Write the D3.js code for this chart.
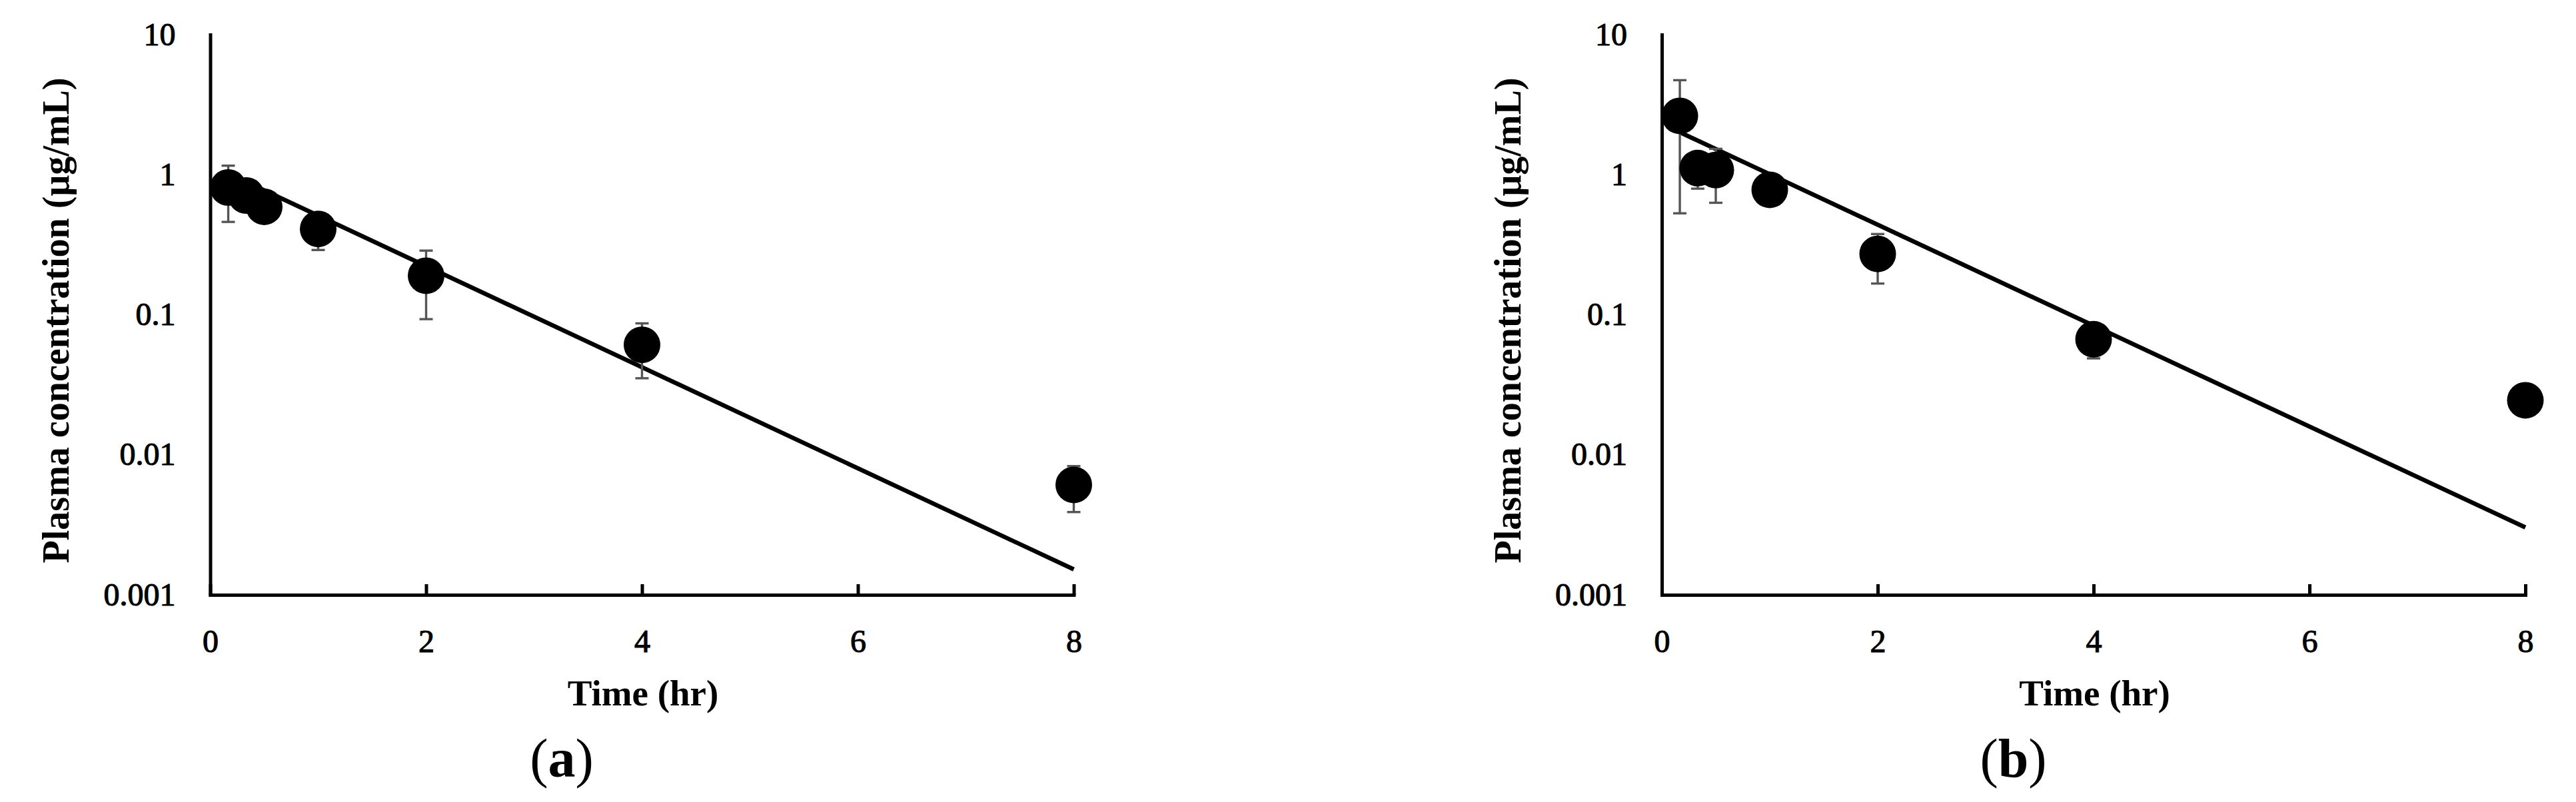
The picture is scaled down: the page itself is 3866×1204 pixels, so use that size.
<!DOCTYPE html>
<html>
<head>
<meta charset="utf-8">
<script src="https://cdn.jsdelivr.net/npm/d3@7"></script>
<style>
  html, body { margin: 0; padding: 0; background: #fff; }
  svg { display: block; }
  text { font-family: "Liberation Serif", "DejaVu Serif", serif; fill: #000; }
</style>
</head>
<body>
<svg id="chart" width="3866" height="1204"></svg>
<script>
// ---- data ----
const panelLabels = ["a", "b"];
const timeHr = [0.167, 0.333, 0.5, 1, 2, 4, 8];

const meanA = [0.81, 0.71, 0.59, 0.41, 0.19, 0.061, 0.0061];
const sdA   = [0.35, 0.10, 0.08, 0.12, 0.097, 0.0258, 0.0022];

const meanB = [2.63, 1.115, 1.08, 0.78, 0.272, 0.0668, 0.0245];
const sdB   = [2.1, 0.32, 0.45, 0.10, 0.105, 0.018, 0.004];

const fitTime = [0.167, 8];
const fitA = [1.02, 0.00152];
const fitB = [2.01, 0.00303];

const xTicks = [0, 2, 4, 6, 8];
const yTicks = [10, 1, 0.1, 0.01, 0.001];
const yTickLabels = ["10", "1", "0.1", "0.01", "0.001"];
const xTitle = "Time (hr)";
const yTitle = "Plasma concentration (μg/mL)";

// ---- layout ----
const svg = d3.select("#chart");
const panelLeft = [315.5, 2494];
const plotW = 1296;
const yTop = 52, yBottom = 893;

const series = [
  { mean: meanA, sd: sdA, fit: fitA },
  { mean: meanB, sd: sdB, fit: fitB }
];

series.forEach((s, i) => {
  const left = panelLeft[i];
  const x = d3.scaleLinear().domain([0, 8]).range([left, left + plotW]);
  const y = d3.scaleLog().domain([0.001, 10]).range([yBottom, yTop]);
  const g = svg.append("g");

  // fitted line
  const pts = fitTime.map((t, k) => [x(t), y(s.fit[k])]);
  g.append("path")
    .attr("d", d3.line()(pts))
    .attr("fill", "none")
    .attr("stroke", "#000")
    .attr("stroke-width", 6.5);

  // error bars
  const eb = g.append("g").attr("stroke", "#555").attr("stroke-width", 3.4);
  timeHr.forEach((t, k) => {
    const hi = s.mean[k] + s.sd[k];
    const lo = Math.max(s.mean[k] - s.sd[k], 0.0011);
    const cx = x(t);
    eb.append("line").attr("x1", cx).attr("x2", cx).attr("y1", y(hi)).attr("y2", y(lo));
    eb.append("line").attr("x1", cx - 10).attr("x2", cx + 10).attr("y1", y(hi)).attr("y2", y(hi));
    eb.append("line").attr("x1", cx - 10).attr("x2", cx + 10).attr("y1", y(lo)).attr("y2", y(lo));
  });

  // markers
  g.selectAll("circle.pt").data(timeHr).enter().append("circle")
    .attr("class", "pt")
    .attr("cx", d => x(d))
    .attr("cy", (d, k) => y(s.mean[k]))
    .attr("r", 27.5)
    .attr("fill", "#000");

  // x axis
  const xAxis = d3.axisBottom(x).tickValues(xTicks).tickSizeInner(-16).tickSizeOuter(0)
    .tickFormat(d3.format("d")).tickPadding(0);
  const gx = g.append("g").attr("transform", `translate(0,${yBottom})`).call(xAxis);
  gx.select(".domain").attr("stroke", "#000").attr("stroke-width", 5).attr("stroke-linecap", "square");
  gx.selectAll(".tick line").attr("stroke", "#000").attr("stroke-width", 5);
  gx.selectAll(".tick text")
    .attr("y", 979 - yBottom).attr("dy", null)
    .style("font-family", '"Liberation Serif", "DejaVu Serif", serif')
    .style("font-size", "48px").attr("fill", "#000")
    .attr("stroke", "#000").attr("stroke-width", 1.1);

  // y axis
  const yAxis = d3.axisLeft(y).tickValues(yTicks).tickSize(0).tickPadding(52)
    .tickFormat((d, k) => yTickLabels[k]);
  const gy = g.append("g").attr("transform", `translate(${left},0)`).call(yAxis);
  gy.select(".domain").attr("stroke", "#000").attr("stroke-width", 5).attr("stroke-linecap", "square");
  gy.selectAll(".tick text")
    .attr("dy", "15")
    .style("font-family", '"Liberation Serif", "DejaVu Serif", serif')
    .style("font-size", "48px").attr("fill", "#000")
    .attr("stroke", "#000").attr("stroke-width", 1.1);

  // axis titles
  g.append("text")
    .attr("x", left + 649.5).attr("y", 1059)
    .attr("text-anchor", "middle")
    .style("font-size", "55px").style("font-weight", "bold")
    .text(xTitle);

  g.append("text")
    .attr("transform", `translate(${left - 212.5},481) rotate(-90)`)
    .attr("text-anchor", "middle")
    .attr("textLength", 729).attr("lengthAdjust", "spacingAndGlyphs")
    .style("font-size", "56px").style("font-weight", "bold")
    .text(yTitle);

  // panel label
  const pl = g.append("text")
    .attr("x", left + 527.5).attr("y", 1166)
    .attr("text-anchor", "middle")
    .style("font-size", "82px");
  pl.append("tspan").text("(");
  pl.append("tspan").style("font-weight", "bold").text(panelLabels[i]);
  pl.append("tspan").text(")");
});
</script>
</body>
</html>
